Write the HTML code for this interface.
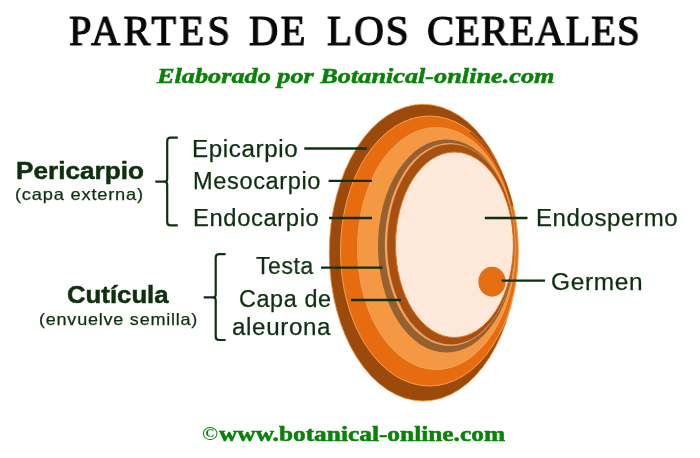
<!DOCTYPE html>
<html><head><meta charset="utf-8"><style>
html,body{margin:0;padding:0;background:#fff;}
body{width:700px;height:458px;position:relative;overflow:hidden;}
.t{position:absolute;white-space:nowrap;transform-origin:0 0;will-change:transform;}
svg{position:absolute;left:0;top:0;}
</style></head><body>
<svg width="700" height="458" viewBox="0 0 700 458">
<ellipse cx="423.15" cy="252.65" rx="93.85" ry="148.35" fill="#9c4a0c" stroke="#f0903c" stroke-width="0.8"/>
<ellipse cx="429.40" cy="251.00" rx="88.90" ry="135.00" fill="#e66c0f" stroke="#f5a050" stroke-width="1.0"/>
<path d="M470.71 132.60 A88.00 134.10 0 0 1 512.09 205.14" stroke="#a04e10" stroke-width="1.8" fill="none" stroke-linecap="round"/>
<ellipse cx="436.40" cy="248.50" rx="78.90" ry="121.00" fill="#f49844" stroke="#f7a860" stroke-width="0.8"/>
<ellipse cx="446.40" cy="246.00" rx="68.40" ry="106.50" fill="#966030"/>
<ellipse cx="449.70" cy="244.50" rx="64.90" ry="101.50" fill="#f0a060"/>
<ellipse cx="450.80" cy="244.35" rx="63.60" ry="100.15" fill="#a65012"/>
<ellipse cx="454.45" cy="244.75" rx="58.95" ry="92.75" fill="#fee8d9" stroke="#e07420" stroke-width="1.0"/>
<ellipse cx="492" cy="281.7" rx="13.6" ry="15" fill="#e46e12"/>
<g stroke="#0f300f" stroke-width="2.3" fill="none"><line x1="304.3" y1="148.5" x2="367" y2="148.5"/><line x1="328.6" y1="180.9" x2="371.9" y2="180.9"/><line x1="329" y1="218" x2="372" y2="218"/><line x1="321" y1="267.6" x2="382.4" y2="267.6"/><line x1="351" y1="300" x2="401" y2="300"/><line x1="484.8" y1="218" x2="527.5" y2="218"/><line x1="501.6" y1="280.6" x2="545" y2="280.6"/></g>
<g stroke="#0f300f" stroke-width="2.2" fill="none">
<path d="M177.8 137.7 H170.7 Q167.2 137.7 167.2 141.2 V179 Q167.2 181.7 164.5 181.7 H155.3 M164.5 181.7 Q167.2 181.7 167.2 184.4 V221.9 Q167.2 225.4 170.7 225.4 H177.8"/>
<path d="M225.6 254.2 H219.2 Q215.7 254.2 215.7 257.7 V294.7 Q215.7 297.4 213 297.4 H203.7 M213 297.4 Q215.7 297.4 215.7 300.1 V336.5 Q215.7 340 219.2 340 H225.6"/>
</g>
</svg>
<div id="pericarpio" class="t" style="left:15.60px;top:160.31px;font-family:'Liberation Sans',sans-serif;font-size:23.5px;font-weight:bold;font-style:normal;line-height:23.5px;transform:scaleX(1.1134);color:#0f300f;letter-spacing:0px;-webkit-text-stroke:0.5px #0f300f;">Pericarpio</div>
<div id="capaext" class="t" style="left:15.00px;top:186.33px;font-family:'Liberation Sans',sans-serif;font-size:16.5px;font-weight:normal;font-style:normal;line-height:16.5px;transform:scaleX(1.1088);color:#0f300f;letter-spacing:0.7px;-webkit-text-stroke:0.25px #0f300f;">(capa externa)</div>
<div id="epi" class="t" style="left:192.20px;top:137.53px;font-family:'Liberation Sans',sans-serif;font-size:23px;font-weight:normal;font-style:normal;line-height:23px;transform:scaleX(1.0503);color:#0f300f;letter-spacing:0.6px;-webkit-text-stroke:0.25px #0f300f;">Epicarpio</div>
<div id="meso" class="t" style="left:193.00px;top:169.63px;font-family:'Liberation Sans',sans-serif;font-size:23px;font-weight:normal;font-style:normal;line-height:23px;transform:scaleX(1.0253);color:#0f300f;letter-spacing:0.6px;-webkit-text-stroke:0.25px #0f300f;">Mesocarpio</div>
<div id="endo" class="t" style="left:193.00px;top:207.23px;font-family:'Liberation Sans',sans-serif;font-size:23px;font-weight:normal;font-style:normal;line-height:23px;transform:scaleX(1.0332);color:#0f300f;letter-spacing:0.6px;-webkit-text-stroke:0.25px #0f300f;">Endocarpio</div>
<div id="testa" class="t" style="left:256.00px;top:255.13px;font-family:'Liberation Sans',sans-serif;font-size:23px;font-weight:normal;font-style:normal;line-height:23px;transform:scaleX(0.9969);color:#0f300f;letter-spacing:0.6px;-webkit-text-stroke:0.25px #0f300f;">Testa</div>
<div id="capade" class="t" style="left:239.00px;top:288.43px;font-family:'Liberation Sans',sans-serif;font-size:23px;font-weight:normal;font-style:normal;line-height:23px;transform:scaleX(1.0163);color:#0f300f;letter-spacing:0.6px;-webkit-text-stroke:0.25px #0f300f;">Capa de</div>
<div id="aleur" class="t" style="left:232.00px;top:315.73px;font-family:'Liberation Sans',sans-serif;font-size:23px;font-weight:normal;font-style:normal;line-height:23px;transform:scaleX(1.0505);color:#0f300f;letter-spacing:0.6px;-webkit-text-stroke:0.25px #0f300f;">aleurona</div>
<div id="cuti" class="t" style="left:66.70px;top:284.41px;font-family:'Liberation Sans',sans-serif;font-size:23.5px;font-weight:bold;font-style:normal;line-height:23.5px;transform:scaleX(1.0960);color:#0f300f;letter-spacing:0px;-webkit-text-stroke:0.5px #0f300f;">Cutícula</div>
<div id="envu" class="t" style="left:39.20px;top:310.63px;font-family:'Liberation Sans',sans-serif;font-size:16.5px;font-weight:normal;font-style:normal;line-height:16.5px;transform:scaleX(1.0930);color:#0f300f;letter-spacing:0.7px;-webkit-text-stroke:0.25px #0f300f;">(envuelve semilla)</div>
<div id="endos" class="t" style="left:535.60px;top:207.43px;font-family:'Liberation Sans',sans-serif;font-size:23px;font-weight:normal;font-style:normal;line-height:23px;transform:scaleX(1.0426);color:#0f300f;letter-spacing:0.6px;-webkit-text-stroke:0.25px #0f300f;">Endospermo</div>
<div id="germ" class="t" style="left:551.00px;top:270.53px;font-family:'Liberation Sans',sans-serif;font-size:23px;font-weight:normal;font-style:normal;line-height:23px;transform:scaleX(1.0629);color:#0f300f;letter-spacing:0.6px;-webkit-text-stroke:0.25px #0f300f;">Germen</div>
<div id="t1" class="t" style="left:69.40px;top:10.23px;font-family:'Liberation Serif',serif;font-size:42px;font-weight:normal;font-style:normal;line-height:42px;transform:scaleX(0.9606);color:#080808;letter-spacing:3.5px;-webkit-text-stroke:1.2px #080808;">PARTES</div>
<div id="t2" class="t" style="left:249.10px;top:10.23px;font-family:'Liberation Serif',serif;font-size:42px;font-weight:normal;font-style:normal;line-height:42px;transform:scaleX(0.9651);color:#080808;letter-spacing:2.5px;-webkit-text-stroke:1.2px #080808;">DE</div>
<div id="t3" class="t" style="left:326.90px;top:10.23px;font-family:'Liberation Serif',serif;font-size:42px;font-weight:normal;font-style:normal;line-height:42px;transform:scaleX(0.9790);color:#080808;letter-spacing:2.0px;-webkit-text-stroke:1.2px #080808;">LOS</div>
<div id="t4" class="t" style="left:427.30px;top:10.23px;font-family:'Liberation Serif',serif;font-size:42px;font-weight:normal;font-style:normal;line-height:42px;transform:scaleX(0.9699);color:#080808;letter-spacing:1.0px;-webkit-text-stroke:1.2px #080808;">CEREALES</div>
<div id="sub" class="t" style="left:157.00px;top:66.41px;font-family:'Liberation Serif',serif;font-size:21px;font-weight:bold;font-style:italic;line-height:21px;transform:scaleX(1.2500);color:#0a820a;letter-spacing:0px;-webkit-text-stroke:0.5px #0a820a;">Elaborado por Botanical-online.com</div>
<div id="foot" class="t" style="left:219.20px;top:424.25px;font-family:'Liberation Serif',serif;font-size:20px;font-weight:bold;font-style:normal;line-height:20px;transform:scaleX(1.2680);color:#0a820a;letter-spacing:0px;-webkit-text-stroke:0.5px #0a820a;">www.botanical-online.com</div>
<div id="copy" class="t" style="left:201.80px;top:424.49px;font-family:'Liberation Serif',serif;font-size:19px;font-weight:bold;font-style:normal;line-height:19px;transform:scaleX(1.1270);color:#0a820a;letter-spacing:0px;">©</div>
</body></html>
